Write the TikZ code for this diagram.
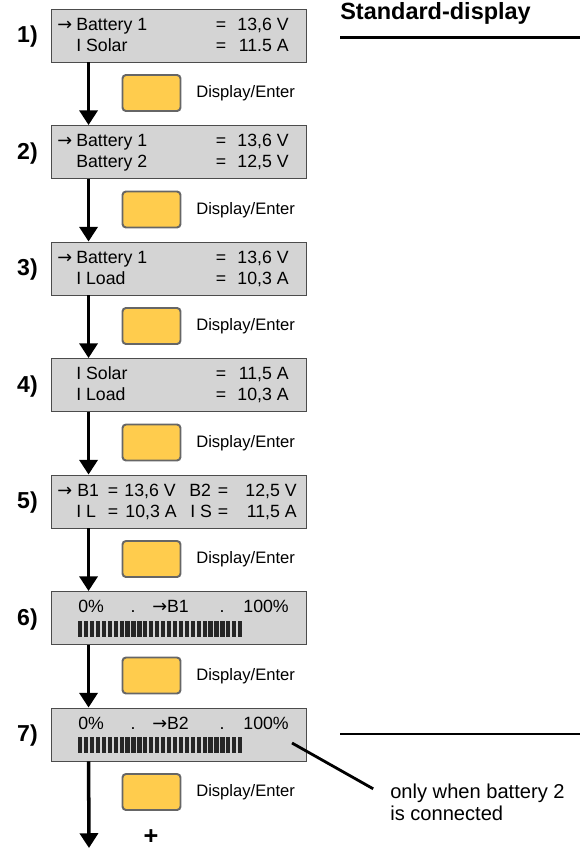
\documentclass[tikz,border=0pt]{standalone}
\usepackage{fontspec}
\setmainfont{Liberation Sans}
\newfontfamily\arrowfont{DejaVu Sans}
\usetikzlibrary{arrows.meta}

\definecolor{lcd}{RGB}{212,212,212}
\definecolor{keyfill}{RGB}{255,204,77}
\newcommand{\ra}{{\arrowfont →}}

\begin{document}
\begin{tikzpicture}[x=0.025cm, y=-0.025cm,
  display/.style = {draw=black!70, line width=0.6pt, fill=lcd, inner sep=0pt,
                    minimum width=6.375cm, minimum height=1.325cm},
  key/.style     = {draw=black!60, line width=1.4pt, fill=keyfill, inner sep=0pt,
                    rounded corners=2.5pt, minimum width=1.45cm, minimum height=0.9cm},
  keylbl/.style  = {anchor=base west, inner sep=0pt, font=\fontsize{11.8}{14}\selectfont},
  num/.style     = {anchor=base east, inner sep=0pt,
                    font=\fontsize{16.4}{18}\selectfont\bfseries},
  txt/.style     = {anchor=base west, inner sep=0pt, font=\fontsize{12.6}{15}\selectfont},
  val/.style     = {txt, anchor=base east},
  eq/.style      = {txt, anchor=base},
  flow/.style    = {line width=2.5pt, -{Triangle[length=10.5pt,width=12.8pt]}},
  rule/.style    = {line width=2.1pt},
  leader/.style  = {line width=2pt},
  head/.style    = {anchor=base west, inner sep=0pt,
                    font=\fontsize{16.7}{19}\selectfont\bfseries},
  note/.style    = {anchor=base west, inner sep=0pt, font=\fontsize{14.3}{16}\selectfont},
]
  \useasboundingbox (0,0) rectangle (580,849);

  % heading and its rules
  \node[head] (head) at (340,19) {Standard-display};
  \draw[rule] (340,37.5) -- (580,37.5);
  \draw[rule] (340,734) -- (580,734);

  % the seven display screens
  \node[display] (d1) at (178.5,35.5) {};
  \node[display] (d2) at (178.5,152) {};
  \node[display] (d3) at (178.5,268.5) {};
  \node[display] (d4) at (178.5,385) {};
  \node[display] (d5) at (178.5,501.5) {};
  \node[display] (d6) at (178.5,618) {};
  \node[display] (d7) at (178.5,734.5) {};

  \node[num] (n1) at (38,42.5) {1)};
  \node[num] (n2) at (38,159) {2)};
  \node[num] (n3) at (38,275.5) {3)};
  \node[num] (n4) at (38,392) {4)};
  \node[num] (n5) at (38,508.5) {5)};
  \node[num] (n6) at (38,625) {6)};
  \node[num] (n7) at (38,741.5) {7)};

  % screen 1
  \node[txt] (d1a) at (57,30) {\ra};
  \node[txt] (d1b) at (76,30) {Battery 1};
  \node[eq]  (d1c) at (221,30) {=};
  \node[val] (d1d) at (289,30) {13,6 V};
  \node[txt] (d1e) at (76,51) {I Solar};
  \node[eq]  (d1f) at (221,51) {=};
  \node[val] (d1g) at (289,51) {11.5 A};

  % screen 2
  \node[txt] (d2a) at (57,146.5) {\ra};
  \node[txt] (d2b) at (76,146.5) {Battery 1};
  \node[eq]  (d2c) at (221,146.5) {=};
  \node[val] (d2d) at (289,146.5) {13,6 V};
  \node[txt] (d2e) at (76,167.5) {Battery 2};
  \node[eq]  (d2f) at (221,167.5) {=};
  \node[val] (d2g) at (289,167.5) {12,5 V};

  % screen 3
  \node[txt] (d3a) at (57,263) {\ra};
  \node[txt] (d3b) at (76,263) {Battery 1};
  \node[eq]  (d3c) at (221,263) {=};
  \node[val] (d3d) at (289,263) {13,6 V};
  \node[txt] (d3e) at (76,284) {I Load};
  \node[eq]  (d3f) at (221,284) {=};
  \node[val] (d3g) at (289,284) {10,3 A};

  % screen 4
  \node[txt] (d4b) at (76,379.5) {I Solar};
  \node[eq]  (d4c) at (221,379.5) {=};
  \node[val] (d4d) at (289,379.5) {11,5 A};
  \node[txt] (d4e) at (76,400.5) {I Load};
  \node[eq]  (d4f) at (221,400.5) {=};
  \node[val] (d4g) at (289,400.5) {10,3 A};

  % screen 5
  \node[txt] (d5a) at (57,496) {\ra};
  \node[txt] (d5b) at (77,496) {B1};
  \node[eq]  (d5c) at (113,496) {=};
  \node[val] (d5d) at (176,496) {13,6 V};
  \node[txt] (d5e) at (189,496) {B2};
  \node[eq]  (d5f) at (223,496) {=};
  \node[val] (d5g) at (297,496) {12,5 V};
  \node[txt] (d5h) at (76,517) {I L};
  \node[eq]  (d5i) at (113,517) {=};
  \node[val] (d5j) at (177,517) {10,3 A};
  \node[txt] (d5k) at (190,517) {I S};
  \node[eq]  (d5l) at (223,517) {=};
  \node[val] (d5m) at (297,517) {11,5 A};

  % screens 6 and 7: bar graphs
  \node[txt] (d6a) at (78,612.5) {0\%};
  \node[eq]  (d6b) at (133,612.5) {.};
  \node[txt] (d6c) at (152,612.5) {\ra B1};
  \node[eq]  (d6d) at (222,612.5) {.};
  \node[val] (d6e) at (289,612.5) {100\%};
  \foreach \i in {0,...,27}
    \fill[black!85] (78+\i*5.93,620.5) rectangle ++(4.2,16);

  \node[txt] (d7a) at (78,729) {0\%};
  \node[eq]  (d7b) at (133,729) {.};
  \node[txt] (d7c) at (152,729) {\ra B2};
  \node[eq]  (d7d) at (222,729) {.};
  \node[val] (d7e) at (289,729) {100\%};
  \foreach \i in {0,...,27}
    \fill[black!85] (78+\i*5.93,737) rectangle ++(4.2,16);

  % keys
  \node[key] (k1) at (151.5,93) {};
  \node[key] (k2) at (151.5,209.5) {};
  \node[key] (k3) at (151.5,326) {};
  \node[key] (k4) at (151.5,442.5) {};
  \node[key] (k5) at (151.5,559) {};
  \node[key] (k6) at (151.5,675.5) {};
  \node[key] (k7) at (151.5,792) {};

  \node[keylbl] (e1) at (196,97.5) {Display/Enter};
  \node[keylbl] (e2) at (196,214) {Display/Enter};
  \node[keylbl] (e3) at (196,330.5) {Display/Enter};
  \node[keylbl] (e4) at (196,447) {Display/Enter};
  \node[keylbl] (e5) at (196,563.5) {Display/Enter};
  \node[keylbl] (e6) at (196,680) {Display/Enter};
  \node[keylbl] (e7) at (196,796.5) {Display/Enter};

  % flow down the screens
  \draw[flow] ([xshift=0.95cm]d1.south west) -- ([xshift=0.95cm]d2.north west);
  \draw[flow] ([xshift=0.95cm]d2.south west) -- ([xshift=0.95cm]d3.north west);
  \draw[flow] ([xshift=0.95cm]d3.south west) -- ([xshift=0.95cm]d4.north west);
  \draw[flow] ([xshift=0.95cm]d4.south west) -- ([xshift=0.95cm]d5.north west);
  \draw[flow] ([xshift=0.95cm]d5.south west) -- ([xshift=0.95cm]d6.north west);
  \draw[flow] ([xshift=0.95cm]d6.south west) -- ([xshift=0.95cm]d7.north west);
  \coordinate (end) at (89,848);
  \draw[flow] ([xshift=0.95cm]d7.south west) -- (end);

  \node[anchor=south, inner sep=0pt, font=\fontsize{18}{18}\selectfont\bfseries]
    (plus) at (151,845) {+};

  % note on screen 7
  \node[note] (note1) at (390,798) {only when battery 2};
  \node[note] (note2) at (390,820) {is connected};
  \coordinate (p7) at (292,743);
  \draw[leader] (p7) -- ([xshift=-0.42cm,yshift=0.1cm]note1.west);
\end{tikzpicture}
\end{document}
